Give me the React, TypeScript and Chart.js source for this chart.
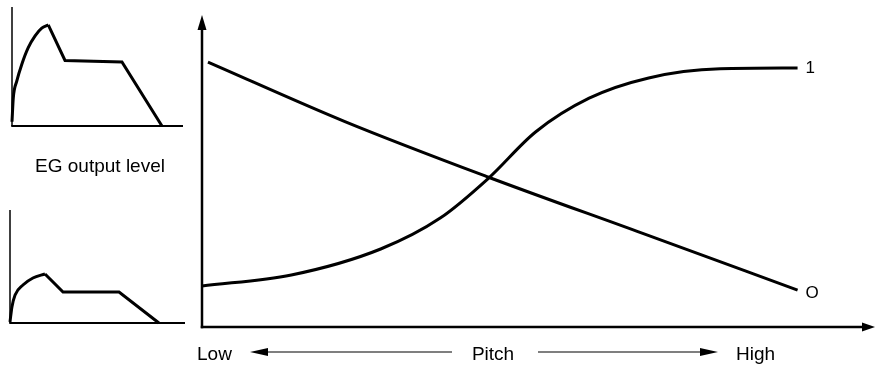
import React, { useEffect, useRef } from "react";
import { Chart, registerables } from "chart.js";

Chart.register(...registerables);

const FONT = '"Liberation Sans", Arial, Helvetica, sans-serif';

// Main chart: pitch (0 = low .. 100 = high) vs. output level
const pitchCurve1 = [0, 15, 30, 40, 48, 56, 65, 75, 87, 100];
const levelCurve1 = [0.158, 0.2, 0.3, 0.419, 0.57, 0.75, 0.88, 0.958, 0.993, 0.996];
const pitchCurve0 = [1, 24, 48, 74, 100];
const levelCurve0 = [1.019, 0.79, 0.577, 0.36, 0.142];
const curveLabels = ["1", "O"];
const pitchLabels = ["Low", "Pitch", "High"];
const egLabel = "EG output level";

// Inset envelopes (time 0..100, level 0..1)
const topAttackTime = [0, 0.76, 2.75, 5.7, 9.5, 13.5, 17.4, 21.2];
const topAttackLevel = [0.036, 0.237, 0.375, 0.517, 0.658, 0.757, 0.822, 0.85];
const topRestTime = [21.2, 31, 64.3, 87.7];
const topRestLevel = [0.85, 0.551, 0.538, 0];

const bottomAttackTime = [0, 1.1, 2.9, 7.4, 13.1, 20];
const bottomAttackLevel = [0.009, 0.142, 0.248, 0.336, 0.398, 0.434];
const bottomRestTime = [20, 30.3, 62.3, 85.1];
const bottomRestLevel = [0.434, 0.274, 0.274, 0];

function toXY(xs: number[], ys: number[]) {
  return xs.map((x, i) => ({ x, y: ys[i] }));
}

const mainPlugin = {
  id: "mainDecor",
  afterDatasetsDraw(chart: any) {
    const { ctx, chartArea: a } = chart;
    ctx.save();
    ctx.strokeStyle = "#000";
    ctx.fillStyle = "#000";
    // y axis with arrow
    ctx.lineWidth = 2.5;
    ctx.beginPath();
    ctx.moveTo(a.left, a.bottom + 1.25);
    ctx.lineTo(a.left, a.top + 12);
    ctx.stroke();
    ctx.beginPath();
    ctx.moveTo(a.left, a.top);
    ctx.lineTo(a.left - 4.5, a.top + 15);
    ctx.lineTo(a.left + 4.5, a.top + 15);
    ctx.closePath();
    ctx.fill();
    // x axis with arrow
    ctx.beginPath();
    ctx.moveTo(a.left - 1.25, a.bottom);
    ctx.lineTo(a.right - 10, a.bottom);
    ctx.stroke();
    ctx.beginPath();
    ctx.moveTo(a.right, a.bottom);
    ctx.lineTo(a.right - 13, a.bottom - 4.5);
    ctx.lineTo(a.right - 13, a.bottom + 4.5);
    ctx.closePath();
    ctx.fill();

    // curve end labels
    ctx.font = `17px ${FONT}`;
    ctx.textAlign = "left";
    ctx.textBaseline = "middle";
    chart.data.datasets.forEach((_ds: any, i: number) => {
      const meta = chart.getDatasetMeta(i);
      const last = meta.data[meta.data.length - 1];
      ctx.fillText(curveLabels[i], last.x + 8, last.y + (i === 1 ? 3 : 0));
    });

    // bottom pitch labels
    const ty = a.bottom + 33;
    const ay = a.bottom + 25;
    ctx.font = `19px ${FONT}`;
    ctx.textBaseline = "alphabetic";
    ctx.textAlign = "left";
    ctx.fillText(pitchLabels[0], a.left - 5, ty);
    ctx.textAlign = "center";
    ctx.fillText(pitchLabels[1], a.left + 291, ty);
    ctx.textAlign = "left";
    ctx.fillText(pitchLabels[2], a.left + 534, ty);

    ctx.lineWidth = 1.2;
    // left arrow
    const l1 = a.left + 48, l2 = a.left + 250;
    ctx.beginPath();
    ctx.moveTo(l1 + 14, ay);
    ctx.lineTo(l2, ay);
    ctx.stroke();
    ctx.beginPath();
    ctx.moveTo(l1, ay);
    ctx.lineTo(l1 + 18, ay - 4);
    ctx.lineTo(l1 + 18, ay + 4);
    ctx.closePath();
    ctx.fill();
    // right arrow
    const r1 = a.left + 336, r2 = a.left + 516;
    ctx.beginPath();
    ctx.moveTo(r1, ay);
    ctx.lineTo(r2 - 14, ay);
    ctx.stroke();
    ctx.beginPath();
    ctx.moveTo(r2, ay);
    ctx.lineTo(r2 - 18, ay - 4);
    ctx.lineTo(r2 - 18, ay + 4);
    ctx.closePath();
    ctx.fill();

    // EG output level label
    ctx.font = `19px ${FONT}`;
    ctx.textAlign = "center";
    ctx.fillText(egLabel, 100, 172);
    ctx.restore();
  },
};

const insetPlugin = {
  id: "insetAxes",
  beforeDatasetsDraw(chart: any) {
    const { ctx, chartArea: a } = chart;
    ctx.save();
    ctx.strokeStyle = "#000";
    ctx.lineWidth = 1.5;
    ctx.beginPath();
    ctx.moveTo(a.left, a.top);
    ctx.lineTo(a.left, a.bottom);
    ctx.stroke();
    ctx.lineWidth = 2.2;
    ctx.beginPath();
    ctx.moveTo(a.left - 0.75, a.bottom);
    ctx.lineTo(a.right, a.bottom);
    ctx.stroke();
    ctx.restore();
  },
};

function MainChart() {
  const ref = useRef<HTMLCanvasElement>(null);
  useEffect(() => {
    if (!ref.current) return;
    const common = {
      borderColor: "#000",
      borderWidth: 3,
      pointRadius: 0,
      cubicInterpolationMode: "monotone",
      fill: false,
      clip: false,
    };
    const chart = new Chart(ref.current, {
      type: "line",
      data: {
        datasets: [
          { ...common, data: toXY(pitchCurve1, levelCurve1) } as any,
          { ...common, data: toXY(pitchCurve0, levelCurve0) } as any,
        ],
      },
      options: {
        animation: false,
        responsive: false,
        maintainAspectRatio: false,
        events: [],
        layout: { padding: { left: 202, top: 15, right: 0, bottom: 40 } },
        plugins: { legend: { display: false }, tooltip: { enabled: false }, title: { display: false } },
        scales: {
          x: { type: "linear", min: 0, max: 113, display: false },
          y: { type: "linear", min: 0, max: 1.2, display: false },
        },
      },
      plugins: [mainPlugin],
    });
    return () => chart.destroy();
  }, []);
  return (
    <canvas
      ref={ref}
      width={875}
      height={367}
      style={{ position: "absolute", left: 0, top: 0, width: 875, height: 367 }}
    />
  );
}

function EnvelopeInset(props: {
  top: number;
  attackT: number[];
  attackL: number[];
  restT: number[];
  restL: number[];
  pad: { left: number; top: number; right: number; bottom: number };
}) {
  const ref = useRef<HTMLCanvasElement>(null);
  useEffect(() => {
    if (!ref.current) return;
    const common = { borderColor: "#000", borderWidth: 3, pointRadius: 0, fill: false, clip: false };
    const chart = new Chart(ref.current, {
      type: "line",
      data: {
        datasets: [
          { ...common, data: toXY(props.attackT, props.attackL), cubicInterpolationMode: "monotone" } as any,
          { ...common, data: toXY(props.restT, props.restL), tension: 0, borderJoinStyle: "miter" } as any,
        ],
      },
      options: {
        animation: false,
        responsive: false,
        maintainAspectRatio: false,
        events: [],
        layout: { padding: props.pad },
        plugins: { legend: { display: false }, tooltip: { enabled: false }, title: { display: false } },
        scales: {
          x: { type: "linear", min: 0, max: 100, display: false },
          y: { type: "linear", min: 0, max: 1, display: false },
        },
      },
      plugins: [insetPlugin],
    });
    return () => chart.destroy();
  }, []);
  return (
    <canvas
      ref={ref}
      width={195}
      height={135}
      style={{ position: "absolute", left: 0, top: props.top, width: 195, height: 135 }}
    />
  );
}

export default function App() {
  return (
    <div
      style={{
        position: "fixed",
        left: 0,
        top: 0,
        width: 875,
        height: 367,
        background: "#fff",
        overflow: "hidden",
      }}
    >
      <MainChart />
      <EnvelopeInset
        top={0}
        attackT={topAttackTime}
        attackL={topAttackLevel}
        restT={topRestTime}
        restL={topRestLevel}
        pad={{ left: 12, top: 7, right: 12, bottom: 9 }}
      />
      <EnvelopeInset
        top={200}
        attackT={bottomAttackTime}
        attackL={bottomAttackLevel}
        restT={bottomRestTime}
        restL={bottomRestLevel}
        pad={{ left: 10, top: 10, right: 10, bottom: 12 }}
      />
    </div>
  );
}
